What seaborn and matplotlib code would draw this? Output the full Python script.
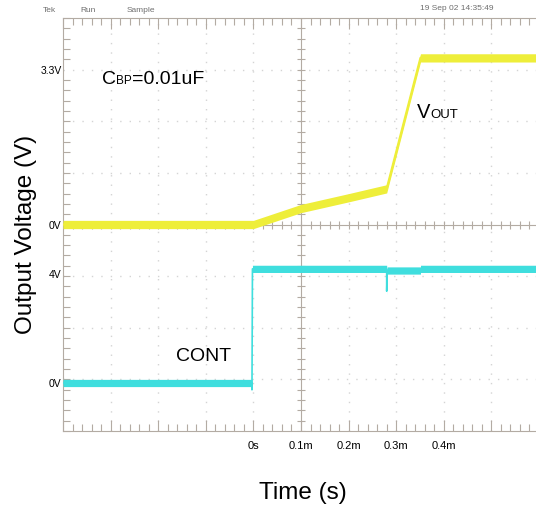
import numpy as np
import pandas as pd
import matplotlib
matplotlib.use("Agg")
import matplotlib.pyplot as plt
import seaborn as sns

# ---- data (time in ms, volts) ----
vout_time = [-0.40, 0.00, 0.10, 0.20, 0.28, 0.351, 0.60]
vout_volt = [0.00, 0.00, 0.34, 0.57, 0.76, 3.55, 3.55]

cont_time = [-0.40, -0.003, -0.003, -0.002, 0.28, 0.28, 0.281, 0.351, 0.351, 0.60]
cont_volt = [0.00, 0.00, -0.25, 4.20, 4.20, 3.38, 4.14, 4.14, 4.20, 4.20]

# channel settings: volts per division and ground position (divisions)
vout_vdiv, vout_ref = 1.1, 0.0
cont_vdiv, cont_ref = 1.9, -3.07

x_ticks = [-0.4, -0.3, -0.2, -0.1, 0.0, 0.1, 0.2, 0.3, 0.4, 0.5]
x_labels = ["", "", "", "", "0s", "0.1m", "0.2m", "0.3m", "0.4m", ""]
vout_tick_volts = [3.3, 0.0]
vout_tick_labels = ["3.3V", "0V"]
cont_tick_volts = [4.0, 0.0]
cont_tick_labels = ["4V", "0V"]

vout = pd.DataFrame({"t": vout_time, "div": np.array(vout_volt) / vout_vdiv + vout_ref})
cont = pd.DataFrame({"t": cont_time, "div": np.array(cont_volt) / cont_vdiv + cont_ref})

sns.set_style("white")
plt.rcParams["font.family"] = ["Liberation Sans", "DejaVu Sans"]
plt.rcParams["text.color"] = "black"

W, H = 536, 512
fig = plt.figure(figsize=(W / 100, H / 100), dpi=100)
ax = fig.add_axes([63 / W, (H - 431) / H, (W - 63) / W, (431 - 18) / H])

yellow = "#eeee3a"
cyan = "#3fdede"
grid_c = "#d4d4d4"
axis_c = "#b3aba3"

# dotted graticule
for x in x_ticks[1:]:
    if abs(x - 0.1) > 1e-6:
        ax.axvline(x, color=grid_c, lw=1.0, ls=(0, (1, 5.8)), zorder=0)
for y in [-3, -2, -1, 1, 2, 3]:
    ax.axhline(y, color=grid_c, lw=1.0, ls=(0, (1, 5.8)), zorder=0)

# centre crosshair with small ticks
ax.axvline(0.1, color=axis_c, lw=0.8, zorder=0)
ax.axhline(0, color=axis_c, lw=0.8, zorder=0)
xs = np.arange(-0.4, 0.6, 0.02)
ax.plot(xs, np.zeros_like(xs), ls="none", marker="|", ms=6, mew=0.8, color=axis_c, zorder=0)
ys = np.arange(-4, 4.01, 0.2)
ax.plot(np.full_like(ys, 0.1), ys, ls="none", marker="_", ms=6, mew=0.8, color=axis_c, zorder=0)

# traces: thin centre line plus a vertical noise band
ax.fill_between(vout["t"], vout["div"] - 0.08, vout["div"] + 0.08, color=yellow, lw=0, zorder=3)
sns.lineplot(data=vout, x="t", y="div", estimator=None, sort=False, color=yellow, lw=1.6, ax=ax, zorder=3)
ax.fill_between(cont["t"], cont["div"] - 0.07, cont["div"] + 0.07, color=cyan, lw=0, zorder=3)
sns.lineplot(data=cont, x="t", y="div", estimator=None, sort=False, color=cyan, lw=1.2, ax=ax, zorder=3)

ax.set_xlim(-0.4, -0.4 + 473 / 476)
ax.set_ylim(-4, 4)

# frame and rulers
for s in ["left", "top", "bottom"]:
    ax.spines[s].set_color(axis_c)
    ax.spines[s].set_linewidth(0.8)
ax.spines["right"].set_visible(False)

ax.set_xticks(x_ticks)
ax.set_xticklabels(x_labels)
ax.set_xticks(np.arange(-0.4, 0.6, 0.02), minor=True)
ytick_pos = [v / vout_vdiv + vout_ref for v in vout_tick_volts] + \
            [v / cont_vdiv + cont_ref for v in cont_tick_volts]
ax.set_yticks(ytick_pos)
ax.set_yticklabels(vout_tick_labels + cont_tick_labels)
ax.set_yticks(np.arange(-4, 4.01, 0.2), minor=True)

ax.tick_params(axis="x", which="major", direction="in", length=8, width=0.8, color=axis_c,
               top=True, bottom=True, labelsize=8, pad=7, labelcolor="black")
ax.tick_params(axis="x", which="minor", direction="in", length=5, width=0.8, color=axis_c,
               top=True, bottom=True)
ax.tick_params(axis="y", which="major", direction="in", length=0, pad=1, labelsize=7.5,
               left=True, labelcolor="black")
ax.tick_params(axis="y", which="minor", direction="in", length=5, width=0.8, color=axis_c,
               left=True, right=False)
ax.set_xlabel("")
ax.set_ylabel("")

# axis titles
fig.text(26 / W, 1 - 234 / H, "Output Voltage (V)", rotation=90, ha="center", va="center",
         fontsize=17.5, color="black")
fig.text(303 / W, 1 - 493 / H, "Time (s)", ha="center", va="center", fontsize=17.5, color="black")

# scope header
hdr = "#6e6e6e"
fig.text(43 / W, 1 - 11 / H, "Tek", fontsize=6, color=hdr, va="center")
fig.text(80 / W, 1 - 11 / H, "Run", fontsize=6, color=hdr, va="center")
fig.text(127 / W, 1 - 11 / H, "Sample", fontsize=6, color=hdr, va="center")
fig.text(420 / W, 1 - 9 / H, "19 Sep 02 14:35:49", fontsize=6, color=hdr, va="center")

# trace annotations (small caps style subscripts)
renderer = fig.canvas.get_renderer()


def caps_label(x_px, base_px, big, small, rest, big_size, small_size):
    t = fig.text(x_px / W, 1 - base_px / H, big, fontsize=big_size, va="baseline", color="black")
    bb = t.get_window_extent(renderer)
    t2 = fig.text(bb.x1 / W, 1 - base_px / H, small, fontsize=small_size, va="baseline", color="black")
    if rest:
        bb2 = t2.get_window_extent(renderer)
        fig.text(bb2.x1 / W, 1 - base_px / H, rest, fontsize=big_size, va="baseline", color="black")


caps_label(102, 83.5, "C", "BP", "=0.01uF", 14, 8.5)
caps_label(417, 118, "V", "OUT", "", 14.5, 9.5)
fig.text(176 / W, 1 - 361 / H, "CONT", fontsize=14, va="baseline", color="black")

fig.savefig("out.png", dpi=100)
